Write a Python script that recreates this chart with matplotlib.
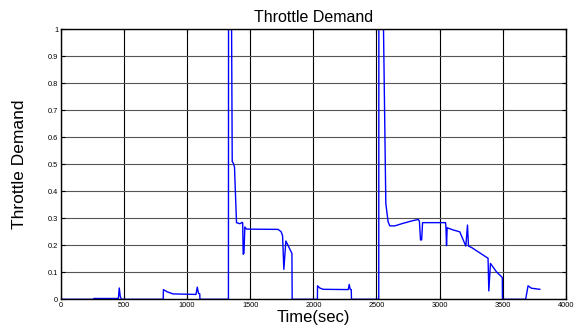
import matplotlib.pyplot as plt

plt.rcParams['font.family'] = ['Liberation Sans', 'DejaVu Sans']

# throttle demand trace (time in sec, demand 0..1)
time_sec = [0, 260, 262, 455, 462, 470, 480, 810, 812, 840, 888, 1070, 1080, 1090, 1100, 1101,
            1327, 1328, 1350, 1357, 1365, 1375, 1391, 1418, 1436, 1440, 1444, 1450, 1457, 1470,
            1721, 1745, 1756, 1766, 1782, 1830, 1832,
            2032, 2033, 2050, 2078, 2276, 2284, 2292, 2300, 2302,
            2518, 2519, 2524, 2525, 2550, 2574, 2592, 2606, 2645, 2700, 2760, 2830, 2840, 2849,
            2858, 2865, 3047, 3050, 3055, 3060, 3107, 3160, 3208, 3221, 3229, 3253, 3384, 3390,
            3403, 3450, 3490, 3497, 3498,
            3682, 3683, 3701, 3728, 3794]
throttle = [0, 0, 0.003, 0.003, 0.042, 0.01, 0, 0, 0.036, 0.028, 0.02, 0.018, 0.045, 0.022, 0.02, 0,
            0, 1.2, 1.2, 0.51, 0.505, 0.49, 0.284, 0.28, 0.285, 0.283, 0.167, 0.17, 0.268, 0.26,
            0.259, 0.25, 0.235, 0.111, 0.216, 0.17, 0,
            0, 0.05, 0.042, 0.037, 0.036, 0.055, 0.037, 0.036, 0,
            0, 1.2, 1.2, 1.2, 1.2, 0.355, 0.287, 0.272, 0.272, 0.28, 0.288, 0.296, 0.29, 0.22,
            0.22, 0.284, 0.284, 0.27, 0.199, 0.265, 0.257, 0.25, 0.197, 0.275, 0.197, 0.192, 0.152, 0.031,
            0.133, 0.102, 0.084, 0.08, 0,
            0, 0.003, 0.05, 0.041, 0.037]

x_ticks = list(range(0, 4001, 500))
y_ticks = [i / 10 for i in range(11)]
y_tick_labels = ['0'] + [f'{v:g}' for v in y_ticks[1:-1]] + ['1']

fig = plt.figure(figsize=(5.75, 3.32), dpi=100)
ax = fig.add_axes([0.106, 0.0985, 0.878, 0.813])

ax.plot(time_sec, throttle, color='#0000ff', lw=1.0, clip_on=True)

ax.set_xlim(0, 4000)
ax.set_ylim(0, 1)
ax.set_xticks(x_ticks)
ax.set_yticks(y_ticks)
ax.set_yticklabels(y_tick_labels)
ax.tick_params(direction='in', labelsize=5.3, length=3, width=0.8,
               top=True, right=True, pad=2)

ax.xaxis.grid(True, color='black', lw=0.8)
ax.yaxis.grid(True, color='#555555', lw=0.8)
ax.set_axisbelow(True)
for s in ax.spines.values():
    s.set_linewidth(1.0)

ax.set_title('Throttle Demand', fontsize=11.5, pad=5)
ax.set_xlabel('Time(sec)', fontsize=12, labelpad=1)
ax.set_ylabel('Throttle Demand', fontsize=12.5, labelpad=15)

fig.savefig('out.png', dpi=100)
